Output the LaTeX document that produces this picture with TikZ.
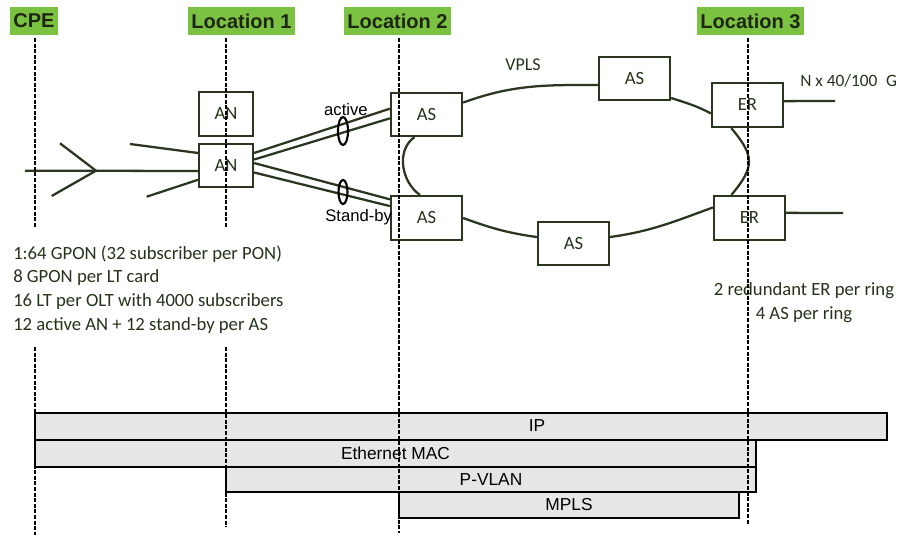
\documentclass[tikz,border=0pt]{standalone}
\usepackage{fontspec}
\setmainfont{Carlito}
\newfontfamily\arialf{Liberation Sans}
\usetikzlibrary{shapes.geometric}
\definecolor{ink}{HTML}{2A3620}
\definecolor{txt}{HTML}{24331A}
\definecolor{lgreen}{HTML}{7CC242}
\definecolor{labtxt}{HTML}{1C2612}
\definecolor{barfill}{HTML}{E6E6E6}
\begin{document}
\begin{tikzpicture}[x=0.75pt,y=-0.75pt,
  box/.style={draw=ink, line width=1.7pt, fill=white, text=txt, font=\fontsize{14}{16}\selectfont, inner sep=0pt},
  loc/.style={fill=lgreen, text=labtxt, font=\arialf\bfseries\fontsize{15}{17}\selectfont, minimum height=21pt, inner xsep=2.6pt, inner ysep=0pt},
  conn/.style={draw=ink, line width=1.7pt},
  guide/.style={line width=1.6pt, dash pattern=on 3pt off 1.2pt, black},
  bar/.style={draw=black, line width=1.6pt, fill=barfill},
  bartext/.style={font=\arialf\fontsize{13}{15}\selectfont, text=black, inner sep=0pt},
  note/.style={text=txt, font=\fontsize{14}{16}\selectfont, inner sep=0pt},
  lbl/.style={font=\arialf\fontsize{12.5}{14}\selectfont, text=black, inner sep=0pt},
  oval/.style={ellipse, draw=black, line width=1.6pt, inner sep=0pt}
]
\useasboundingbox (0,0) rectangle (901,535);

% layer bars
\draw[bar] (35,413) rectangle (887,440);
\draw[bar] (35,440) rectangle (756,467);
\draw[bar] (226,467) rectangle (756,492);
\draw[bar] (399,492) rectangle (739,518);
\node[bartext] (ip) at (537,426) {IP};
\node[bartext] (eth) at (395.5,453.5) {Ethernet MAC};
\node[bartext] (pvlan) at (491,479.5) {P-VLAN};
\node[bartext] (mpls) at (569,505) {MPLS};

% location labels
\node[loc] (cpe) at (34,21) {CPE};
\node[loc] (loc1) at (241.5,21.5) {Location 1};
\node[loc] (loc2) at (397.5,21.5) {Location 2};
\node[loc] (loc3) at (750.5,21.5) {Location 3};

% boxes
\node[box, minimum width=40.5pt, minimum height=33pt] (an1) at (226,114) {AN};
\node[box, minimum width=40.5pt, minimum height=32.25pt] (an2) at (226,165.5) {AN};
\node[box, minimum width=53.25pt, minimum height=32.25pt] (as1) at (426.5,114.5) {AS};
\node[box, minimum width=53.25pt, minimum height=33pt] (as2) at (426.5,218) {AS};
\node[box, minimum width=53.25pt, minimum height=32.25pt] (as3) at (634.5,78.5) {AS};
\node[box, minimum width=53.25pt, minimum height=32.25pt] (as4) at (573.5,243.5) {AS};
\node[box, minimum width=53.25pt, minimum height=33pt] (er1) at (747.5,105) {ER};
\node[box, minimum width=53.25pt, minimum height=33pt] (er2) at (749.5,218) {ER};

% ring
\draw[conn] (as1.18) to[out=20,in=180] (as3.190);
\draw[conn] (as3.-28) to[out=-18,in=152] (er1.193);
\draw[conn] (er1.-125) to[out=-50,in=50,looseness=1.4] (er2.128);
\draw[conn] (er2.164) to[out=200,in=8] (as4.10);
\draw[conn] (as4.170) to[out=172,in=-20] (as2.east);
\draw[conn] (as1.-118) to[out=-145,in=145] (as2.106);

% access side
\coordinate (cL) at (25,170.7);
\coordinate (v1) at (60,143.3);
\coordinate (vtip) at (96,170.7);
\coordinate (v2) at (51.7,196);
\coordinate (s1) at (130,144);
\coordinate (s2) at (146.7,196.7);
\draw[conn] (cL) -- (an2.191);
\draw[conn] (v1) -- (vtip) -- (v2);
\draw[conn] (s1) -- (an2.156);
\draw[conn] (s2) -- (an2.207);

% active / stand-by pairs
\draw[conn] (an2.24) -- (as1.171);
\draw[conn] (an2.12) -- (as1.186);
\draw[conn] (an2.5) -- (as2.153);
\draw[conn] (an2.-14) -- (as2.162);
\node[oval, minimum width=7.5pt, minimum height=21pt] (ov1) at (343,131) {};
\node[oval, minimum width=6.75pt, minimum height=18pt] (ov2) at (343,192) {};
\node[lbl, anchor=base] (act) at (346,116) {active};
\node[lbl, anchor=base west] (stb) at (325,221.5) {Stand-by};

% uplinks
\coordinate (u1) at (835,101);
\coordinate (u2) at (843,213);
\draw[conn] (er1.6) -- (u1);
\draw[conn] (er2.8) -- (u2);
\node[note, font=\fontsize{13.5}{15}\selectfont, anchor=base] (vpls) at (523,71) {VPLS};
\node[note, font=\fontsize{13}{15}\selectfont, anchor=base west] (nx) at (800,87) {N x 40/100\enspace G};

% notes
\node[note, anchor=base west] (t1) at (13,259) {1:64 GPON (32 subscriber per PON)};
\node[note, anchor=base west] (t2) at (13,282.5) {8 GPON per LT card};
\node[note, anchor=base west] (t3) at (13,306) {16 LT per OLT with 4000 subscribers};
\node[note, anchor=base west] (t4) at (13,330) {12 active AN + 12 stand-by per AS};
\node[note, anchor=base] (r1) at (804,295.5) {2 redundant ER per ring};
\node[note, anchor=base] (r2) at (804,319) {4 AS per ring};

% location guides
\coordinate (g0a) at (35,38);  \coordinate (g0b) at (35,227);
\coordinate (g0c) at (35,347); \coordinate (g0d) at (35,535);
\coordinate (g1a) at (226,38); \coordinate (g1b) at (226,228);
\coordinate (g1c) at (226,347); \coordinate (g1d) at (226,527);
\coordinate (g2a) at (399,38); \coordinate (g2b) at (399,533);
\coordinate (g3a) at (748,38); \coordinate (g3b) at (748,525);
\draw[guide] (g0a) -- (g0b);
\draw[guide] (g0c) -- (g0d);
\draw[guide] (g1a) -- (g1b);
\draw[guide] (g1c) -- (g1d);
\draw[guide] (g2a) -- (g2b);
\draw[guide] (g3a) -- (g3b);
\end{tikzpicture}
\end{document}
